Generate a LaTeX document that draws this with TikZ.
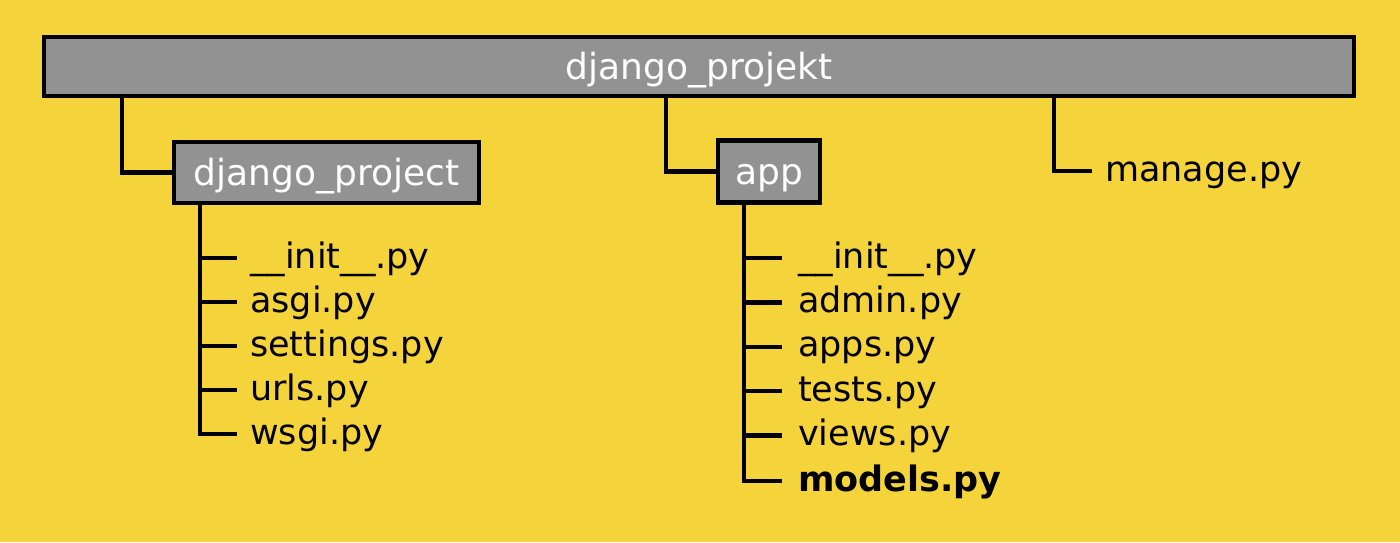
\documentclass[tikz,border=0pt]{standalone}
\usepackage{fontspec}
\setmainfont{DejaVu Sans}
\definecolor{bgyellow}{HTML}{F4D33B}
\definecolor{boxgray}{HTML}{929292}
\tikzset{
  folder/.style={draw=black, fill=boxgray, line width=4.5pt, text=white,
    font=\fontsize{36}{40}\selectfont, inner sep=0pt, text height=30pt, text depth=5pt},
  file/.style={anchor=west, inner sep=0pt, text height=27pt, text depth=7pt,
    font=\fontsize{35}{40}\selectfont},
  branch/.style={line width=4.5pt},
}

\begin{document}
\begin{tikzpicture}[x=1pt, y=-1pt]
\fill [bgyellow] (0,0) rectangle (1400,542);
% folders
\node [folder, minimum width=1310pt, minimum height=59pt] (root) at (699,66.5) {django\_projekt};
\node [folder, minimum width=305pt, minimum height=61pt] (proj) at (326.5,172.5) {django\_project};
\node [folder, minimum width=102pt, minimum height=62pt] (app) at (769,171.5) {app};
\node [file] (manage) at (1105,171) {manage.py};
% files of django_project
\foreach \name [count=\i] in {\_\_init\_\_.py, asgi.py, settings.py, urls.py, wsgi.py}
  \node [file] (p\i) at (250, 258 + 44*\i - 44) {\name};
% files of app
\foreach \name [count=\i] in {\_\_init\_\_.py, admin.py, apps.py, tests.py, views.py}
  \node [file] (a\i) at (798, 258 + 44.4*\i - 44.4) {\name};
\node [file, font=\fontsize{35}{40}\selectfont\bfseries] (a6) at (798,481) {models.py};
% branches
\draw [branch] (122,0 |- root.south) |- (proj.west);
\draw [branch] (666,0 |- root.south) |- (app.west);
\draw [branch] (1054,0 |- root.south) |- ([xshift=-13pt]manage.west);
\draw [branch] (200,0 |- proj.south) |- ([xshift=-13pt]p5.west);
\foreach \i in {1,...,4}
  \draw [branch] (200,0 |- p\i.west) -- ([xshift=-13pt]p\i.west);
\draw [branch] (744,0 |- app.south) |- ([xshift=-16pt]a6.west);
\foreach \i in {1,...,5}
  \draw [branch] (744,0 |- a\i.west) -- ([xshift=-16pt]a\i.west);
\end{tikzpicture}
\end{document}
